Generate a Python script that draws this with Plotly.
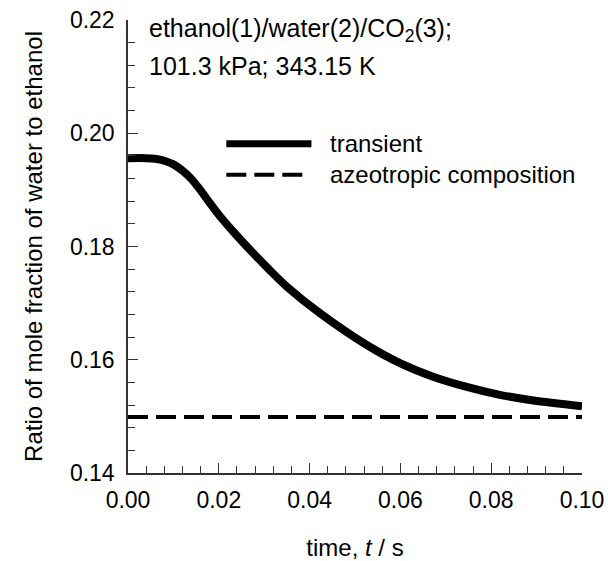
import plotly.graph_objects as go

# data
time_s = [0, 0.004, 0.006, 0.008, 0.010, 0.012, 0.014, 0.016, 0.018, 0.0203, 0.024, 0.0276,
          0.031, 0.035, 0.0423, 0.0526, 0.0599, 0.0672, 0.0746, 0.0819, 0.0893, 0.100]
ratio_transient = [0.1956, 0.1956, 0.1955, 0.19515, 0.1945, 0.1934, 0.1919, 0.1899, 0.1877,
                   0.1853, 0.1819, 0.1788, 0.1760, 0.1729, 0.1682, 0.1626, 0.1594, 0.1570,
                   0.1552, 0.1538, 0.1528, 0.1518]
azeo_time = [0, 0.100]
azeo_ratio = [0.1499, 0.1499]

x_ticks = [0.00, 0.02, 0.04, 0.06, 0.08, 0.10]
y_ticks = [0.14, 0.16, 0.18, 0.20, 0.22]

FONT = "Arial, Liberation Sans, sans-serif"
TICK_FS = 23
TITLE_FS = 24
LEG_FS = 24
NOTE_FS = 25

fig = go.Figure()
fig.add_trace(go.Scatter(x=azeo_time, y=azeo_ratio, mode="lines",
                         line=dict(color="black", width=4, dash="20px,8px"),
                         showlegend=False, hoverinfo="skip"))
fig.add_trace(go.Scatter(x=time_s, y=ratio_transient, mode="lines",
                         line=dict(color="black", width=8, shape="spline", smoothing=0.8),
                         showlegend=False, hoverinfo="skip"))

axis_common = dict(showline=True, linecolor="#333", linewidth=1.5, mirror=False,
                   ticks="inside", tickcolor="#333", tickwidth=1.2, ticklen=10,
                   showgrid=False, zeroline=False, automargin=False,
                   ticklabeloverflow="allow",
                   tickfont=dict(family=FONT, size=TICK_FS, color="black"))

fig.update_xaxes(range=[0, 0.10], tickvals=x_ticks, tickformat=".2f",
                 minor=dict(dtick=0.004, ticks="inside", ticklen=7, tickcolor="#333", tickwidth=1.2),
                 title=dict(text="time, <i>t</i> / s", font=dict(family=FONT, size=TITLE_FS, color="black"), standoff=27),
                 ticklabelstandoff=6, **axis_common)
fig.update_yaxes(range=[0.14, 0.22], tickvals=y_ticks, tickformat=".2f",
                 minor=dict(dtick=0.004, ticks="inside", ticklen=7, tickcolor="#333", tickwidth=1.2),
                 title=dict(text="Ratio of mole fraction of water to ethanol", font=dict(family=FONT, size=TITLE_FS, color="black"), standoff=20),
                 ticklabelstandoff=7, **axis_common)

# legend drawn manually
fig.add_shape(type="line", xref="paper", yref="paper", x0=0.2166, x1=0.404, y0=0.727, y1=0.727,
              line=dict(color="black", width=7))
fig.add_shape(type="line", xref="paper", yref="paper", x0=0.2166, x1=0.392, y0=0.6586, y1=0.6586,
              line=dict(color="black", width=4, dash="20px,8px"))
fig.add_annotation(xref="paper", yref="paper", x=0.4399, y=0.727, text="transient", showarrow=False,
                   xanchor="left", yanchor="middle", font=dict(family=FONT, size=LEG_FS, color="black"))
fig.add_annotation(xref="paper", yref="paper", x=0.4399, y=0.6586, text="azeotropic composition", showarrow=False,
                   xanchor="left", yanchor="middle", font=dict(family=FONT, size=LEG_FS, color="black"))

fig.add_annotation(xref="paper", yref="paper", x=0.042, y=0.979,
                   text="ethanol(1)/water(2)/CO<sub>2</sub>(3);", showarrow=False,
                   xanchor="left", yanchor="middle", font=dict(family=FONT, size=NOTE_FS, color="black"))
fig.add_annotation(xref="paper", yref="paper", x=0.042, y=0.899,
                   text="101.3 kPa; 343.15 K", showarrow=False,
                   xanchor="left", yanchor="middle", font=dict(family=FONT, size=NOTE_FS, color="black"))

fig.update_layout(width=608, height=561, margin=dict(l=128, r=26, t=20, b=88),
                  plot_bgcolor="white", paper_bgcolor="white", showlegend=False,
                  hovermode=False)

# remove the default 8px page margin so the figure fills the window exactly
fig.write_html("out.html", config={"displayModeBar": False},
               post_script="document.body.style.margin='0';")
